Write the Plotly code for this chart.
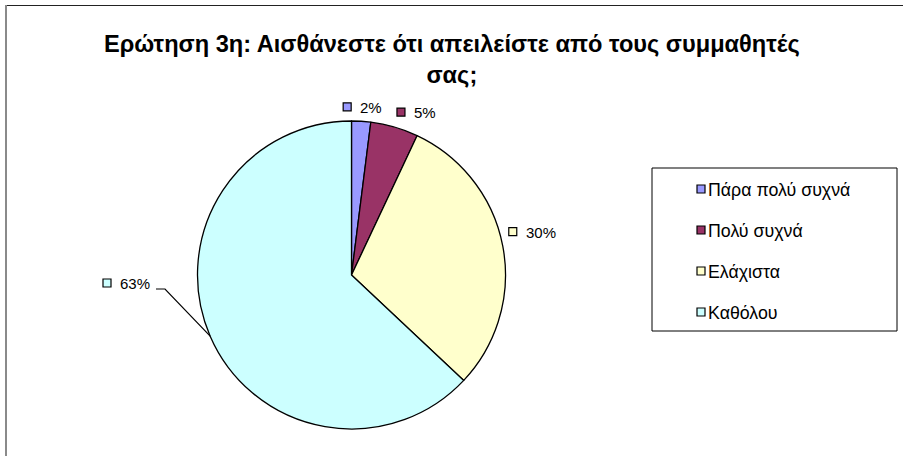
import math
import plotly.graph_objects as go

# ---- data ----
categories = ["Πάρα πολύ συχνά", "Πολύ συχνά", "Ελάχιστα", "Καθόλου"]
values = [2, 5, 30, 63]
colors = ["#9999FF", "#993366", "#FFFFCC", "#CCFFFF"]
title_lines = ["Ερώτηση 3η: Αισθάνεστε ότι απειλείστε από τους συμμαθητές", "σας;"]

# ---- layout constants (pixels) ----
W, H = 903, 456
CX, CY, R = 351.5, 275.0, 154.0
FONT = "Liberation Sans, Arial, sans-serif"
LABEL_SIZE = 15
LEGEND_SIZE = 17.8
TITLE_SIZE = 23.6
# label group offsets relative to slice mid-angle edge point: (dx of square center, dy)
LABEL_OFFSETS = [(-14, -14.5), (6.5, -15), (10, -14.5), (None, None)]
OUTER_LABEL = {"square_x": 107, "y": 283, "elbow_start": 156, "elbow_end": 165, "elbow_y": 289}
LEG = {"left": 652, "top": 168, "right": 897, "bottom": 331, "sq_x": 701, "text_x": 707,
       "rows": [189, 230, 271, 312]}
SQ = 8

fig = go.Figure()
fig.add_trace(go.Pie(
    values=values, labels=categories, sort=False, direction="clockwise", rotation=0,
    marker=dict(colors=colors, line=dict(color="black", width=1.3)),
    textinfo="none", showlegend=False, hoverinfo="label+percent",
    domain=dict(x=[(CX - R) / W, (CX + R) / W], y=[(H - CY - R) / H, (H - CY + R) / H]),
))

shapes = []
annotations = []

def square(cx, cy, color):
    shapes.append(dict(type="rect", xref="x", yref="y", x0=cx - SQ / 2, x1=cx + SQ / 2,
                       y0=cy - SQ / 2, y1=cy + SQ / 2, fillcolor=color,
                       line=dict(color="black", width=1.2), layer="above"))

def text(x, y, s, size=LABEL_SIZE, xanchor="left"):
    annotations.append(dict(xref="x", yref="y", x=x, y=y, text=s,
                            showarrow=False, xanchor=xanchor, yanchor="middle", borderpad=0,
                            font=dict(family=FONT, size=size, color="black")))

# data labels
total = sum(values)
cum = 0.0
for i, v in enumerate(values):
    mid = (cum + v / 2) / total * 2 * math.pi
    cum += v
    ex, ey = CX + R * math.sin(mid), CY - R * math.cos(mid)
    pct = "%d%%" % round(100 * v / total)
    if LABEL_OFFSETS[i][0] is not None:
        dx, dy = LABEL_OFFSETS[i]
        sx, sy = ex + dx, ey + dy
        square(sx, sy, colors[i])
        text(sx + SQ / 2 + 8, sy + 0.5, pct)
    else:
        o = OUTER_LABEL
        square(o["square_x"], o["y"], colors[i])
        text(o["square_x"] + SQ / 2 + 8, o["y"] + 0.5, pct)
        shapes.append(dict(type="path", xref="x", yref="y",
                           path="M %f %f L %f %f L %f %f" % (o["elbow_start"], o["elbow_y"],
                                                               o["elbow_end"], o["elbow_y"], ex, ey),
                           line=dict(color="black", width=1.2)))

# legend
shapes.append(dict(type="line", xref="x", yref="y", x0=LEG["left"], x1=LEG["right"], y0=LEG["top"], y1=LEG["top"],
                   line=dict(color="#808080", width=2)))
shapes.append(dict(type="line", xref="x", yref="y", x0=LEG["left"], x1=LEG["left"], y0=LEG["top"], y1=LEG["bottom"],
                   line=dict(color="black", width=1)))
shapes.append(dict(type="line", xref="x", yref="y", x0=LEG["left"], x1=LEG["right"], y0=LEG["bottom"], y1=LEG["bottom"],
                   line=dict(color="black", width=1)))
shapes.append(dict(type="line", xref="x", yref="y", x0=LEG["right"], x1=LEG["right"], y0=LEG["top"], y1=LEG["bottom"],
                   line=dict(color="black", width=1)))
for i, c in enumerate(categories):
    square(LEG["sq_x"], LEG["rows"][i], colors[i])
    text(LEG["text_x"], LEG["rows"][i] + 0.5, c, size=LEGEND_SIZE)

# chart border (top + left)
shapes.append(dict(type="line", xref="x", yref="y", x0=5, x1=W, y0=5.5, y1=5.5, line=dict(color="#222222", width=1)))
shapes.append(dict(type="line", xref="x", yref="y", x0=6, x1=6, y0=5, y1=H, line=dict(color="#8a8a8a", width=2)))

# title
annotations.append(dict(xref="x", yref="y", x=452, y=59.5, text="<b>" + "<br>".join(title_lines) + "</b>",
                        showarrow=False, xanchor="center", yanchor="middle", borderpad=0,
                        font=dict(family=FONT, size=TITLE_SIZE, color="black")))

fig.update_layout(
    width=W, height=H, margin=dict(l=0, r=0, t=0, b=0),
    paper_bgcolor="white", plot_bgcolor="rgba(0,0,0,0)",
    xaxis=dict(range=[0, W], visible=False, fixedrange=True, domain=[0, 1]),
    yaxis=dict(range=[H, 0], visible=False, fixedrange=True, domain=[0, 1]),
    shapes=shapes, annotations=annotations, showlegend=False,
)
fig.write_html("out.html", config={"displayModeBar": False},
               post_script="document.body.style.margin='0';document.body.style.overflow='hidden';")
